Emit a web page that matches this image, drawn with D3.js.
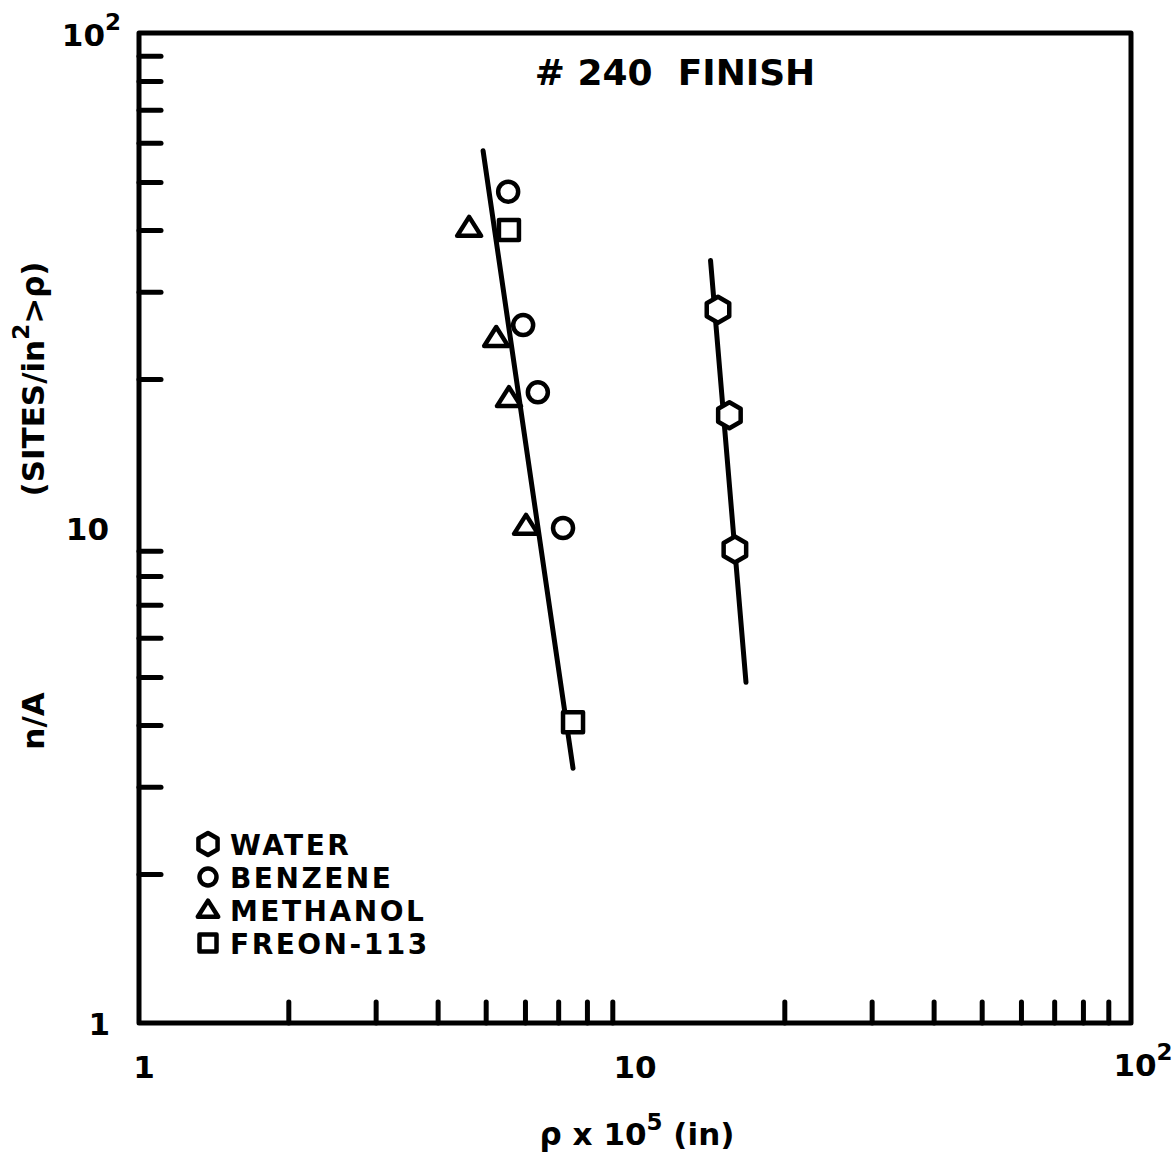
<!DOCTYPE html>
<html>
<head>
<meta charset="utf-8">
<script src="https://cdn.jsdelivr.net/npm/d3@7"></script>
<style>
  body { margin: 0; background: #fff; }
  svg text { font-family: "DejaVu Sans", sans-serif; font-weight: bold; fill: #000; }
</style>
</head>
<body>
<div class="chart"></div>
<script>
"use strict";

// ---------------- data ----------------
let water_x = [14.7, 15.5, 15.9];
let water_y = [27.6, 16.9, 9.05];

let benzene_x = [5.55, 5.95, 6.37, 7.16];
let benzene_y = [47.8, 25.7, 18.8, 10.0];

let methanol_x = [4.63, 5.25, 5.57, 6.03];
let methanol_y = [40.4, 24.2, 18.3, 10.1];

let freon_x = [5.57, 7.50];
let freon_y = [40.0, 4.05];

// fitted lines (end points)
let line_left_x = [4.94, 7.50];
let line_left_y = [57.8, 3.27];
let line_right_x = [14.2, 16.74];
let line_right_y = [34.7, 4.88];

let minor_ticks = [2, 3, 4, 5, 6, 7, 8, 9, 20, 30, 40, 50, 60, 70, 80, 90];
let legend_names = ["WATER", "BENZENE", "METHANOL", "FREON-113"];
let legend_shapes = ["hex", "circle", "tri", "square"];

// ---------------- plot settings ----------------
let W = 1173, H = 1163;
let m_left = 139, m_right = 1131, m_top = 33, m_bottom = 1023;

let svg = d3.select(".chart").append("svg")
    .attr("width", W).attr("height", H);

let x = d3.scaleLog().domain([1, 100]).range([m_left, m_right]);
let y = d3.scaleLog().domain([1, 100]).range([m_bottom, m_top]);

// frame
svg.append("path")
    .attr("d", "M" + m_left + "," + m_top + "H" + m_right + "V" + m_bottom + "H" + m_left + "Z")
    .attr("fill", "none").attr("stroke", "#000").attr("stroke-width", 5)
    .attr("stroke-linejoin", "round");

// inward ticks
let xAxis = svg.append("g")
    .attr("transform", "translate(0," + m_bottom + ")")
    .call(d3.axisBottom(x).tickValues(minor_ticks).tickSize(-21).tickFormat(""));
let yAxis = svg.append("g")
    .attr("transform", "translate(" + m_left + ",0)")
    .call(d3.axisLeft(y).tickValues(minor_ticks).tickSize(-22).tickFormat(""));
[xAxis, yAxis].forEach(function (g) {
    g.select(".domain").remove();
    g.selectAll("line").attr("stroke", "#000").attr("stroke-width", 5).attr("stroke-linecap", "round");
});

// tick labels
function powLabel(g, xx, yy, base, sup, anchor) {
    let t = g.append("text").attr("x", xx).attr("y", yy)
        .attr("text-anchor", anchor).style("font-size", "31px");
    t.append("tspan").text(base);
    if (sup) t.append("tspan").attr("dy", -16).style("font-size", "23px").text(sup);
}
powLabel(svg, 121, y(100) + 13, "10", "2", "end");
powLabel(svg, 109, y(10) + 12, "10", null, "end");
powLabel(svg, 110, y(1) + 12, "1", null, "end");
powLabel(svg, x(1) + 5, 1078, "1", null, "middle");
powLabel(svg, x(10), 1078, "10", null, "middle");
powLabel(svg, x(100) + 12, 1076, "10", "2", "middle");

// axis titles
let xt = svg.append("text").attr("x", 637).attr("y", 1145)
    .attr("text-anchor", "middle").style("font-size", "31px");
xt.append("tspan").text("ρ x 10");
xt.append("tspan").attr("dy", -15).style("font-size", "23px").text("5");
xt.append("tspan").attr("dy", 15).text(" (in)");

let yt = svg.append("g").attr("transform", "translate(44,0) rotate(-90)");
yt.append("text").attr("x", -721).attr("y", 0).attr("text-anchor", "middle")
    .style("font-size", "31px").text("n/A");
let yt2 = yt.append("text").attr("x", -379).attr("y", 0).attr("text-anchor", "middle")
    .style("font-size", "31px");
yt2.append("tspan").text("(SITES/in");
yt2.append("tspan").attr("dy", -15).style("font-size", "23px").text("2");
yt2.append("tspan").attr("dy", 15).text(">ρ)");

// title
svg.append("text").attr("x", 675).attr("y", 85).attr("text-anchor", "middle")
    .style("font-size", "36px").style("white-space", "pre").text("# 240  FINISH");

// fitted lines
let line = d3.line().x(function (d) { return x(d[0]); }).y(function (d) { return y(d[1]); });
[[line_left_x, line_left_y], [line_right_x, line_right_y]].forEach(function (l) {
    svg.append("path")
        .attr("d", line(d3.zip(l[0], l[1])))
        .attr("fill", "none").attr("stroke", "#000").attr("stroke-width", 5)
        .attr("stroke-linecap", "round");
});

// markers
function marker(g, shape, cx, cy, k) {
    let s;
    if (shape === "circle") {
        s = g.append("circle").attr("cx", cx).attr("cy", cy).attr("r", 10 * k);
    } else if (shape === "square") {
        s = g.append("rect").attr("x", cx - 10 * k).attr("y", cy - 10 * k)
            .attr("width", 20 * k).attr("height", 20 * k);
    } else if (shape === "tri") {
        s = g.append("path").attr("d", "M" + cx + "," + (cy - 11 * k) + "L" + (cx + 12 * k) + "," + (cy + 8 * k) +
            "L" + (cx - 12 * k) + "," + (cy + 8 * k) + "Z");
    } else {
        let pts = d3.range(6).map(function (i) {
            let a = Math.PI / 2 + i * Math.PI / 3;
            return [cx + 13 * k * Math.cos(a), cy - 13 * k * Math.sin(a)];
        });
        s = g.append("path").attr("d", "M" + pts.join("L") + "Z");
    }
    s.attr("fill", "#fff").attr("stroke", "#000").attr("stroke-width", 4.5).attr("stroke-linejoin", "round");
}

let series = [
    ["hex", water_x, water_y],
    ["circle", benzene_x, benzene_y],
    ["tri", methanol_x, methanol_y],
    ["square", freon_x, freon_y]
];
series.forEach(function (s) {
    s[1].forEach(function (v, i) { marker(svg, s[0], x(v), y(s[2][i]), 1); });
});

// legend
legend_names.forEach(function (name, i) {
    let ly = 844 + i * 33;
    marker(svg, legend_shapes[i], 208, ly, 0.85);
    svg.append("text").attr("x", 230).attr("y", ly + 11)
        .style("font-size", "28px").style("letter-spacing", "2.5px").text(name);
});
</script>
</body>
</html>
